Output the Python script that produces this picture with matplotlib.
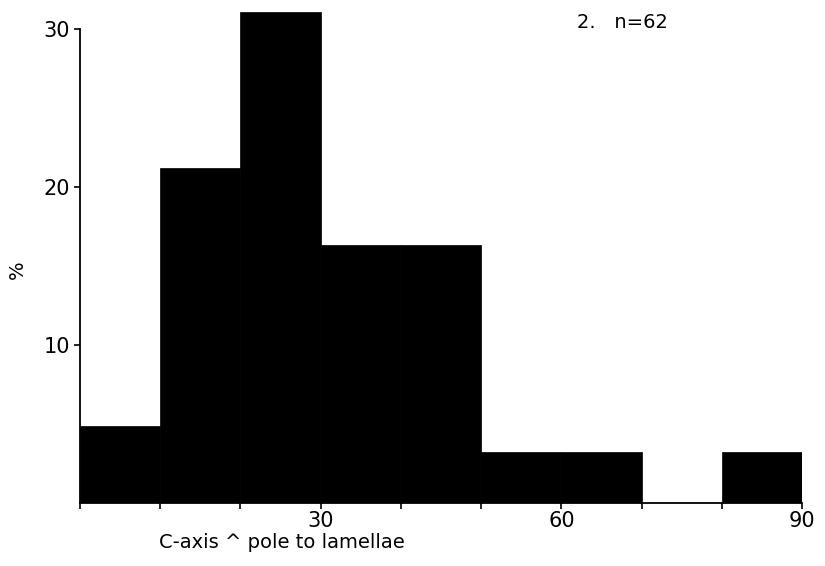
import matplotlib
matplotlib.use("Agg")
import matplotlib.pyplot as plt
import numpy as np

bin_edges = [0, 10, 20, 30, 40, 50, 60, 70, 80, 90]
percent = [4.9, 21.2, 31.1, 16.3, 16.3, 3.2, 3.2, 0.0, 3.2]
xtick_labels = ["30", "60", "90"]
xtick_label_pos = [30, 60, 90]
yticks = [10, 20, 30]

fig = plt.figure(figsize=(8.25, 5.66), dpi=100)
ax = fig.add_axes([80/825, 63/566, 722/825, 497.7/566])

lefts = bin_edges[:-1]
widths = np.diff(bin_edges)
ax.bar(lefts, percent, width=widths, align="edge", color="black", edgecolor="black", linewidth=0.5)

ax.set_xlim(0, 90)
ax.set_ylim(0, 31.5)
for s in ["top", "right"]:
    ax.spines[s].set_visible(False)
ax.spines["left"].set_bounds(0, 30)
ax.spines["left"].set_linewidth(1.3)
ax.spines["bottom"].set_linewidth(1.3)

ax.set_xticks(bin_edges)
ax.set_xticklabels(["" if e not in xtick_label_pos else str(e) for e in bin_edges])
ax.set_yticks(yticks)
ax.set_yticklabels([str(v) for v in yticks])
ax.tick_params(axis="both", labelsize=15, width=1.2, length=4, direction="out", colors="black")
ax.tick_params(axis="x", pad=2)
ax.tick_params(axis="y", pad=3)

ax.set_xlabel("C-axis ^ pole to lamellae", fontsize=14, labelpad=1, x=0.28)
fig.text(17/825, 1 - 270/566, "%", rotation=90, fontsize=14, ha="center", va="center")
ax.text(0.689, 0.965, "2.   n=62", transform=ax.transAxes, fontsize=14, ha="left", va="center")

fig.savefig("out.png", dpi=100)
